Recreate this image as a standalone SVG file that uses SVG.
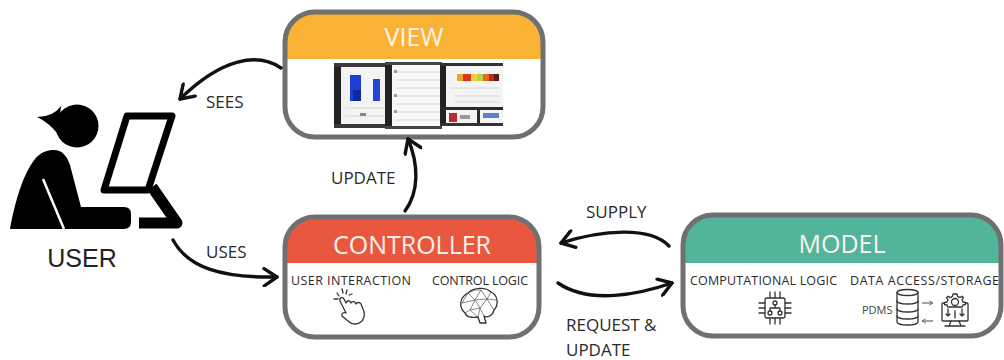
<svg xmlns="http://www.w3.org/2000/svg" width="1004" height="360" viewBox="0 0 1004 360">
  <style>
    .frame { fill: none; stroke: #707070; stroke-width: 5; }
    .head { font-family: "Open Sans", "Liberation Sans", sans-serif; font-size: 25px; fill: #fdf2ea; text-anchor: middle; }
    .sub { font-family: "Open Sans", "Liberation Sans", sans-serif; font-size: 12.5px; fill: #2a2a2a; }
    .lbl { font-family: "Open Sans", "Liberation Sans", sans-serif; font-size: 17px; fill: #2a2a2a; }
    .flow { fill: none; stroke: #111; stroke-width: 3.4; stroke-linecap: round; }
    .icon { fill: none; stroke: #333; stroke-width: 1.3; stroke-linecap: round; stroke-linejoin: round; }
    .mesh { fill: none; stroke: #555; stroke-width: 0.7; }
    .line { stroke: #d8d8d8; stroke-width: 1; }
  </style>
  <defs>
    <marker id="chev" viewBox="0 0 14 14" refX="12" refY="7" markerWidth="20" markerHeight="20" markerUnits="userSpaceOnUse" orient="auto">
      <path d="M3,1 L12,7 L3,13" fill="none" stroke="#111" stroke-width="2.4" stroke-linecap="round" stroke-linejoin="round"/>
    </marker>
    <marker id="tiny" viewBox="0 0 8 8" refX="7" refY="4" markerWidth="6" markerHeight="6" markerUnits="userSpaceOnUse" orient="auto">
      <path d="M2,1 L7,4 L2,7" fill="none" stroke="#666" stroke-width="1.2"/>
    </marker>
    <clipPath id="clipView"><rect x="285" y="12" width="258" height="125" rx="30"/></clipPath>
    <clipPath id="clipCtrl"><rect x="285" y="217" width="254" height="120" rx="30"/></clipPath>
    <clipPath id="clipModel"><rect x="683" y="215" width="318" height="121" rx="30"/></clipPath>
  </defs>

  <rect width="1004" height="360" fill="#ffffff"/>

  <!-- user figure -->
  <g id="user">
    <circle cx="77" cy="126" r="21.5" fill="#000"/>
    <path d="M58,134 Q48,122 37,117 Q53,117 61,106 Z" fill="#000"/>
    <path d="M10,229 C15,202 23,174 35,159 C41,152 47,150 54,150 C62,150 67,156 70,165 L81,207 L124,207 Q131,207 131,214 L131,222 Q131,229 124,229 Z" fill="#000"/>
    <line x1="43" y1="179" x2="64" y2="229" stroke="#fff" stroke-width="2.5"/>
    <path d="M127,116 L172,116 L148,190 L104,190 Z" fill="none" stroke="#000" stroke-width="7" stroke-linejoin="round"/>
    <polyline points="152,187 177,223 139,223" fill="none" stroke="#000" stroke-width="11" stroke-linejoin="round"/>
    <text x="82" y="267" font-family="'Liberation Sans', Arial, sans-serif" font-size="25" fill="#222" text-anchor="middle">USER</text>
  </g>

  <!-- view node -->
  <g id="view">
    <rect x="285" y="12" width="258" height="125" rx="30" fill="#fff"/>
    <rect x="280" y="8" width="270" height="51" fill="#F9B233" clip-path="url(#clipView)"/>
    <text class="head" x="414" y="46">VIEW</text>
    <!-- screen captures -->
    <g id="screens">
      <rect x="334" y="63" width="56" height="65" fill="#f3f3f3"/>
      <rect x="334" y="63" width="7" height="65" fill="#232323"/>
      <rect x="334" y="63" width="56" height="4" fill="#3a3a3a"/>
      <rect x="350" y="75" width="11" height="26" fill="#1c3fd6"/>
      <rect x="353" y="90" width="8" height="11" fill="#0f2aa0"/>
      <rect x="373" y="79" width="7" height="22" fill="#2346d8"/>
      <line class="line" x1="345" y1="108" x2="388" y2="108"/>
      <line class="line" x1="345" y1="116" x2="388" y2="116"/>
      <rect x="360" y="113" width="6" height="3" fill="#888"/>
      <rect x="334" y="124" width="56" height="4" fill="#3a3a3a"/>

      <rect x="385" y="62" width="57" height="67" fill="#f8f8f8"/>
      <rect x="385" y="62" width="7" height="67" fill="#222"/>
      <rect x="385" y="62" width="57" height="3" fill="#444"/>
      <line class="line" x1="396" y1="72" x2="440" y2="72"/>
      <line class="line" x1="396" y1="80" x2="440" y2="80"/>
      <line class="line" x1="396" y1="88" x2="440" y2="88"/>
      <line class="line" x1="396" y1="96" x2="440" y2="96"/>
      <line class="line" x1="396" y1="104" x2="440" y2="104"/>
      <line class="line" x1="396" y1="112" x2="440" y2="112"/>
      <line class="line" x1="396" y1="120" x2="440" y2="120"/>
      <rect x="394" y="70" width="3" height="3" fill="#999"/>
      <rect x="394" y="94" width="3" height="3" fill="#999"/>
      <rect x="394" y="110" width="3" height="3" fill="#999"/>
      <rect x="385" y="126" width="57" height="3" fill="#444"/>

      <rect x="440" y="63" width="63" height="63" fill="#f4f4f4"/>
      <rect x="440" y="63" width="6" height="63" fill="#222"/>
      <rect x="440" y="63" width="63" height="3" fill="#333"/>
      <rect x="457" y="74" width="6" height="7" fill="#f0a030"/>
      <rect x="463" y="74" width="8" height="7" fill="#d9361c"/>
      <rect x="471" y="74" width="6" height="7" fill="#f4d23a"/>
      <rect x="477" y="74" width="6" height="7" fill="#b9d24a"/>
      <rect x="483" y="74" width="6" height="7" fill="#e06a20"/>
      <rect x="489" y="74" width="5" height="7" fill="#c2281a"/>
      <rect x="494" y="74" width="5" height="7" fill="#5a1c10"/>
      <line class="line" x1="450" y1="88" x2="500" y2="88"/>
      <line class="line" x1="455" y1="96" x2="500" y2="96"/>
      <line class="line" x1="455" y1="102" x2="500" y2="102"/>
      <rect x="440" y="107" width="63" height="3" fill="#2a2a2a"/>
      <rect x="449" y="113" width="8" height="9" fill="#c4262b"/>
      <rect x="460" y="115" width="10" height="4" fill="#999"/>
      <rect x="477" y="110" width="3" height="16" fill="#2a2a2a"/>
      <rect x="483" y="113" width="16" height="5" fill="#5c7fcf"/>
      <rect x="440" y="123" width="63" height="3" fill="#333"/>
    </g>
    <rect class="frame" x="285" y="12" width="258" height="125" rx="30"/>
  </g>

  <!-- controller node -->
  <g id="controller">
    <rect x="285" y="217" width="254" height="120" rx="30" fill="#fff"/>
    <rect x="280" y="212" width="265" height="51" fill="#E9573F" clip-path="url(#clipCtrl)"/>
    <text class="head" x="412" y="254">CONTROLLER</text>
    <text class="sub" x="291" y="285" textLength="120">USER INTERACTION</text>
    <text class="sub" x="432" y="285" textLength="96">CONTROL LOGIC</text>
    <!-- tapping hand -->
    <g class="icon">
      <path d="M344,299 C342,296 339,298 340,301 L346,313 C344,312 341,313 342,316 L348,321 C352,325 358,325 362,321 C365,317 365,313 363,309 L361,304 C360,302 357,302 356,304 C355,301 352,301 351,303 C350,300 347,300 346,303 Z"/>
      <path d="M337,293 L339,296 M342,289 L343,293 M347,290 L346,294 M334,299 L338,299 M349,295 L352,294"/>
    </g>
    <!-- low-poly brain -->
    <g>
      <path class="icon" d="M465,313 C458,307 460,297 468,293 C474,287 486,287 491,292 C498,295 499,305 494,310 C493,316 487,318 484,316 L486,323 L480,323 L478,317 C472,318 466,317 465,313 Z" stroke-width="1"/>
      <path class="mesh" d="M468,293 L475,300 L481,290 L487,299 L491,292 M475,300 L487,299 L494,310 M462,303 L475,300 L470,310 L465,313 M470,310 L480,308 L487,299 M480,308 L484,316 M480,308 L478,317 M475,300 L480,308 M487,299 L496,300 M462,303 L468,293 M470,310 L478,317 M481,290 L475,290 L468,293"/>
    </g>
    <rect class="frame" x="285" y="217" width="254" height="120" rx="30"/>
  </g>

  <!-- model node -->
  <g id="model">
    <rect x="683" y="215" width="318" height="121" rx="30" fill="#fff"/>
    <rect x="678" y="210" width="330" height="53" fill="#52B49A" clip-path="url(#clipModel)"/>
    <text class="head" x="842" y="253">MODEL</text>
    <text class="sub" x="690" y="285" textLength="147">COMPUTATIONAL LOGIC</text>
    <text class="sub" x="850" y="285" textLength="149">DATA ACCESS/STORAGE</text>
    <!-- processor chip -->
    <g class="icon" stroke-width="1.5">
      <rect x="765" y="298" width="20" height="20" rx="2"/>
      <path d="M770,292 V298 M775,292 V298 M780,292 V298 M770,318 V324 M775,318 V324 M780,318 V324 M759,303 H765 M759,308 H765 M759,313 H765 M785,303 H791 M785,308 H791 M785,313 H791"/>
      <circle cx="775" cy="303" r="2"/>
      <circle cx="770" cy="313" r="2"/>
      <circle cx="780" cy="313" r="2"/>
      <path d="M775,305 V308 M770,311 V308 H780 V311"/>
    </g>
    <!-- database and storage service -->
    <text x="862" y="314" font-family="'Open Sans', 'Liberation Sans', sans-serif" font-size="11" fill="#444">PDMS</text>
    <g class="icon" stroke="#555" stroke-width="1.2">
      <ellipse cx="907.5" cy="292.5" rx="10.5" ry="3"/>
      <path d="M897,292.5 V322 A10.5,3 0 0 0 918,322 V292.5"/>
      <path d="M897,301 A10.5,3 0 0 0 918,301 M897,309 A10.5,3 0 0 0 918,309 M897,316 A10.5,3 0 0 0 918,316"/>
    </g>
    <line x1="922" y1="303" x2="933" y2="303" stroke="#666" stroke-width="1.2" marker-end="url(#tiny)"/>
    <line x1="933" y1="321" x2="922" y2="321" stroke="#666" stroke-width="1.2" marker-end="url(#tiny)"/>
    <g class="icon" stroke="#444" stroke-width="1.3">
      <rect x="942" y="303" width="26" height="18" rx="1"/>
      <path d="M951,321 L949,326 M959,321 L961,326 M945,326 H965"/>
      <path d="M948,309 V316 M946,314 L948,316 L950,314 M962,309 V316 M960,314 L962,316 L964,314 M955,311 V318"/>
      <path d="M955,294 L957,294 L957.6,296.4 L959.8,297.6 L962,296.2 L963.4,297.6 L962,299.8 L963,302 L965.5,302.5 L965.5,304.5 L963,305 L962,307.2 L960,307 L950,307 L948,307.2 L947,305 L944.5,304.5 L944.5,302.5 L947,302 L948,299.8 L946.6,297.6 L948,296.2 L950.2,297.6 L952.4,296.4 L953,294 Z" fill="#fff"/>
      <circle cx="955" cy="302" r="3.5"/>
    </g>
    <rect class="frame" x="683" y="215" width="318" height="121" rx="30"/>
  </g>

  <!-- connectors -->
  <g id="connectors">
    <path class="flow" d="M281,68 C258,52 222,58 180,99" marker-end="url(#chev)"/>
    <path class="flow" d="M173,240 C188,268 222,278 277,277" marker-end="url(#chev)"/>
    <path class="flow" d="M405,211 C419,192 419,165 408,139" marker-end="url(#chev)"/>
    <path class="flow" d="M669,246 C650,226 602,230 561,243" marker-end="url(#chev)"/>
    <path class="flow" d="M558,283 C590,305 640,294 672,283" marker-end="url(#chev)"/>
  </g>

  <!-- connector labels -->
  <g id="labels">
    <text class="lbl" x="206" y="108">SEES</text>
    <text class="lbl" x="206" y="258">USES</text>
    <text class="lbl" x="331" y="184">UPDATE</text>
    <text class="lbl" x="586" y="218">SUPPLY</text>
    <text class="lbl" x="566" y="331">REQUEST &amp;</text>
    <text class="lbl" x="566" y="356">UPDATE</text>
  </g>
</svg>
